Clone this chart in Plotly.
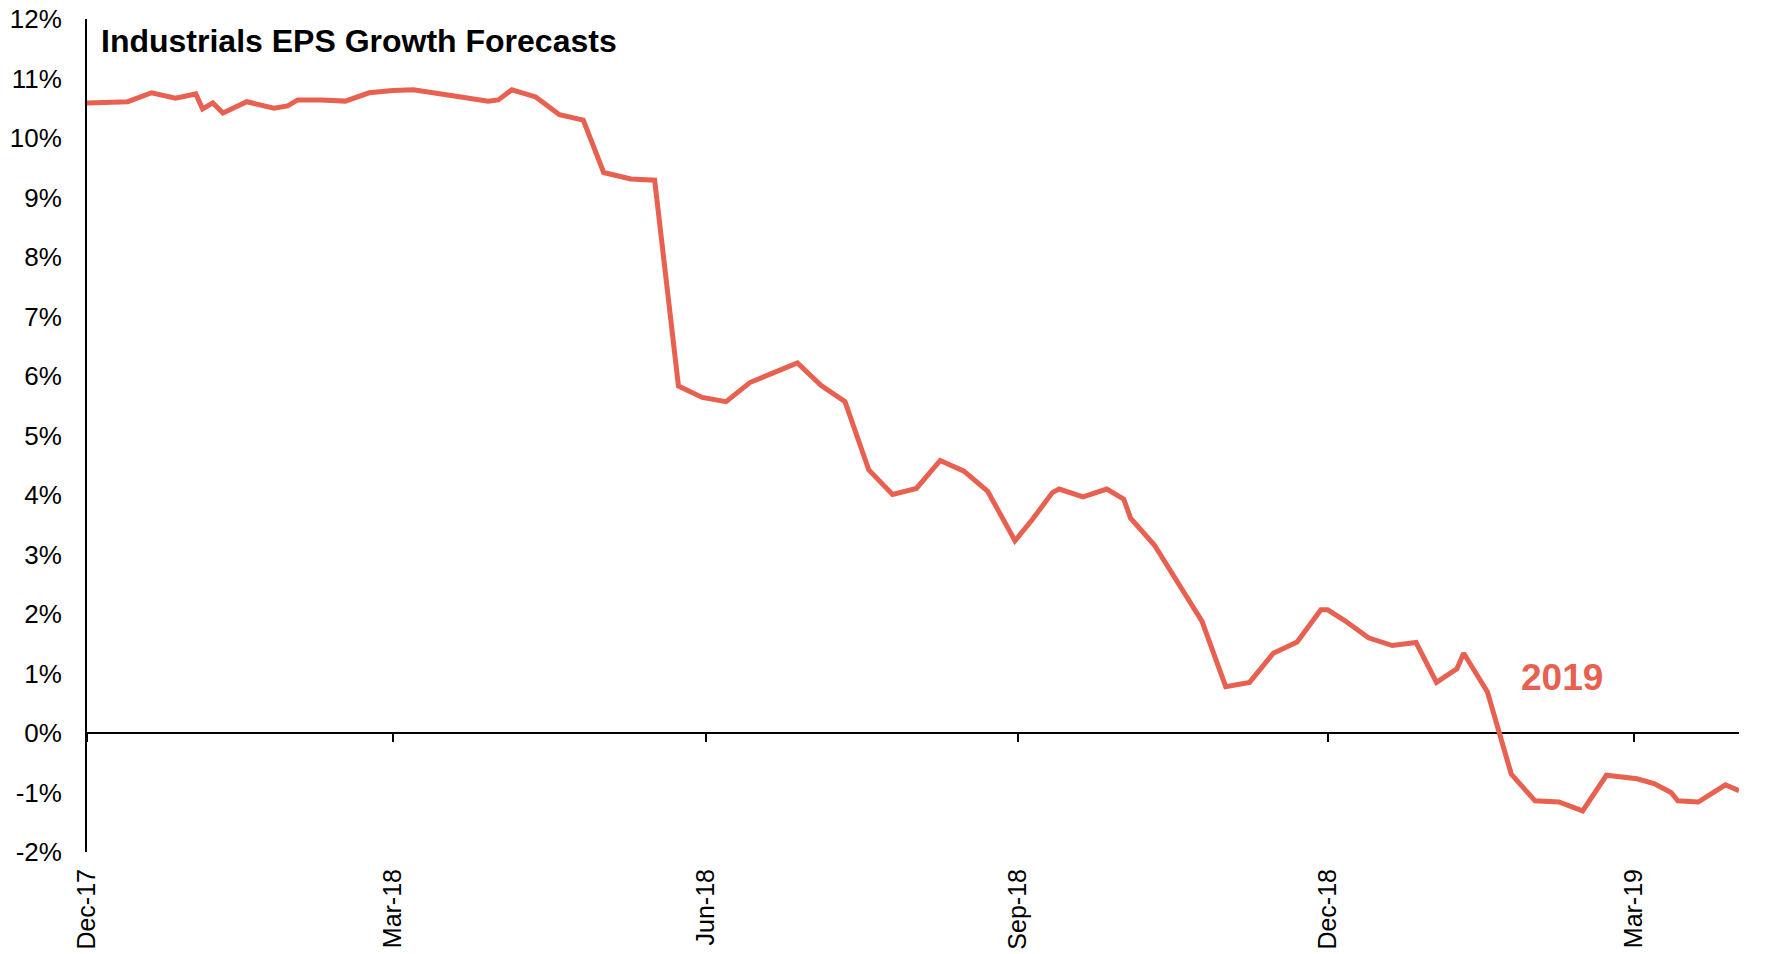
import plotly.graph_objects as go

# Weekly consensus EPS growth forecast for the Industrials sector (calendar 2019), in %
dates = [
    "2017-12-01", "2017-12-13", "2017-12-20", "2017-12-27", "2018-01-02", "2018-01-04",
    "2018-01-07", "2018-01-10", "2018-01-17", "2018-01-25", "2018-01-29", "2018-02-01",
    "2018-02-08", "2018-02-15", "2018-02-22", "2018-03-01", "2018-03-07", "2018-03-14",
    "2018-03-21", "2018-03-29", "2018-04-01", "2018-04-05", "2018-04-12", "2018-04-19",
    "2018-04-26", "2018-05-02", "2018-05-10", "2018-05-17", "2018-05-24", "2018-05-31",
    "2018-06-07", "2018-06-14", "2018-06-21", "2018-06-28", "2018-07-05", "2018-07-12",
    "2018-07-19", "2018-07-26", "2018-08-02", "2018-08-09", "2018-08-16", "2018-08-23",
    "2018-08-31", "2018-09-05", "2018-09-11", "2018-09-13", "2018-09-20", "2018-09-27",
    "2018-10-02", "2018-10-04", "2018-10-11", "2018-10-25", "2018-11-01", "2018-11-08",
    "2018-11-15", "2018-11-22", "2018-11-29", "2018-12-01", "2018-12-06", "2018-12-13",
    "2018-12-20", "2018-12-27", "2019-01-02", "2019-01-08", "2019-01-10", "2019-01-17",
    "2019-01-24", "2019-01-31", "2019-02-07", "2019-02-14", "2019-02-21", "2019-03-02",
    "2019-03-07", "2019-03-12", "2019-03-14", "2019-03-20", "2019-03-28", "2019-04-01",
]
eps_growth_2019 = [
    10.59, 10.61, 10.76, 10.67, 10.74, 10.49, 10.59, 10.42, 10.61, 10.50, 10.54, 10.64,
    10.64, 10.62, 10.76, 10.80, 10.81, 10.74, 10.69, 10.62, 10.64, 10.81, 10.69, 10.39,
    10.30, 9.42, 9.31, 9.29, 5.83, 5.64, 5.57, 5.89, 6.05, 6.22, 5.84, 5.57,
    4.42, 4.01, 4.11, 4.58, 4.40, 4.06, 3.23, 3.58, 4.04, 4.10, 3.97, 4.10,
    3.93, 3.61, 3.16, 1.88, 0.78, 0.85, 1.34, 1.53, 2.07, 2.07, 1.89, 1.60,
    1.47, 1.52, 0.85, 1.08, 1.34, 0.69, -0.69, -1.14, -1.16, -1.31, -0.71, -0.77,
    -0.85, -1.00, -1.14, -1.16, -0.87, -0.97,
]

x_tick_dates = ["2017-12-01", "2018-03-01", "2018-06-01", "2018-09-01", "2018-12-01", "2019-03-01"]
x_tick_labels = ["Dec-17", "Mar-18", "Jun-18", "Sep-18", "Dec-18", "Mar-19"]
y_tick_values = list(range(-2, 13))
y_tick_labels = [f"{v}%" for v in y_tick_values]

title_text = "Industrials EPS Growth Forecasts"
series_label = "2019"

LINE_RED = "#E8604F"
FONT = "Liberation Sans, Arial, sans-serif"
Y_MIN, Y_MAX = -2, 12
X_RANGE = ["2017-12-01", "2019-04-01"]

fig = go.Figure()

fig.add_trace(go.Scatter(
    x=dates, y=eps_growth_2019, mode="lines",
    line=dict(color=LINE_RED, width=5),
    hoverinfo="skip", showlegend=False,
))
# invisible copy that carries the tick-mark axis sitting on the zero line
fig.add_trace(go.Scatter(
    x=dates, y=eps_growth_2019, mode="lines", xaxis="x2",
    line=dict(color=LINE_RED, width=0), opacity=0,
    hoverinfo="skip", showlegend=False,
))

fig.update_layout(
    width=1765, height=954,
    margin=dict(l=87, r=26, t=19, b=102, autoexpand=False),
    paper_bgcolor="white", plot_bgcolor="white",
    font=dict(family=FONT, color="black", size=26),
    xaxis=dict(
        type="date", range=X_RANGE, automargin=False,
        tickmode="array", tickvals=x_tick_dates, ticktext=x_tick_labels,
        tickangle=-90, ticks="", ticklabelstandoff=11,
        showline=False, showgrid=False, zeroline=False,
        tickfont=dict(family=FONT, size=25, color="black"),
    ),
    xaxis2=dict(
        type="date", matches="x", overlaying="x", anchor="free",
        position=(0 - Y_MIN) / (Y_MAX - Y_MIN), automargin=False,
        tickmode="array", tickvals=x_tick_dates,
        ticks="outside", ticklen=8, tickwidth=1.8, tickcolor="black",
        showticklabels=False, showline=False, showgrid=False, zeroline=False,
    ),
    yaxis=dict(
        range=[Y_MIN, Y_MAX], automargin=False,
        tickmode="array", tickvals=y_tick_values, ticktext=y_tick_labels,
        ticks="", ticklabelstandoff=18,
        showline=True, linecolor="black", linewidth=1.8,
        showgrid=False,
        zeroline=True, zerolinecolor="black", zerolinewidth=1.8,
        tickfont=dict(family=FONT, size=26, color="black"),
    ),
    annotations=[
        dict(
            text=f"<b>{title_text}</b>", xref="paper", yref="paper",
            x=(99.5 - 87 - 1) / 1652, y=(852 - 41.5) / 833,
            xanchor="left", yanchor="middle", showarrow=False,
            font=dict(family=FONT, size=32, color="black"),
        ),
        dict(
            text=f"<b>{series_label}</b>", xref="x", yref="y",
            x="2019-02-08", y=0.94,
            xanchor="center", yanchor="middle", showarrow=False,
            font=dict(family=FONT, size=37, color=LINE_RED),
        ),
    ],
)

fig.write_html("out.html")
